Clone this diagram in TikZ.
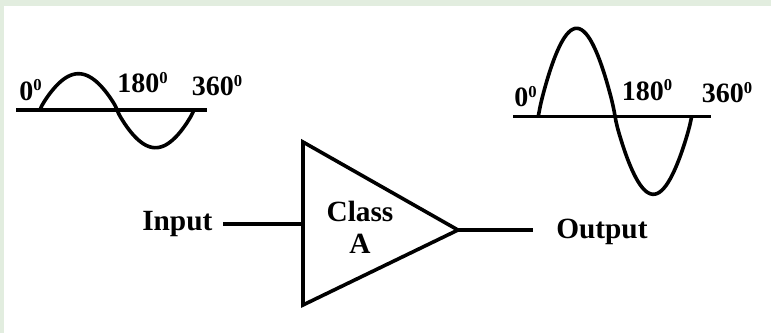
\documentclass[tikz,border=0pt]{standalone}
\usepackage{fontspec}
\setmainfont{Liberation Serif}
\definecolor{edgegreen}{HTML}{E2EDDF}
\newcommand{\supzero}{\raisebox{7pt}{\fontsize{12.5}{12.5}\selectfont 0}}

\begin{document}
\begin{tikzpicture}[x=0.75pt,y=-0.75pt,
 wire/.style={line width=2.7pt},
 caption/.style={font=\bfseries\fontsize{22}{23.8}\selectfont,inner sep=0pt,anchor=base west,align=center},
 degree/.style={font=\bfseries\fontsize{21}{22}\selectfont,inner sep=0pt,anchor=base west}]
\useasboundingbox (0,0) rectangle (771,333);
\fill[edgegreen] (0,0) rectangle (771,333);
\fill[white] (4,5.5) rectangle (771,333);
\coordinate (top) at (303,142);
\coordinate (bottom) at (303,305);
\coordinate (tip) at (458,230);
\coordinate (inend) at (303,224);
\coordinate (instart) at (223,224);
\coordinate (outend) at (533,230);
\draw[wire,line join=miter] (top)--(tip)--(bottom)--cycle;
\node[caption] (input) at (142,230) {Input};
\node[caption] (output) at (556,238) {Output};
\node[caption,anchor=center] (classa) at (360,227) {Class\\A};
\draw[wire] (instart)--(inend);
\draw[wire] (tip)--(outend);
\node[degree] (leftzero) at (19,100) {0\supzero};
\node[degree] (leftmid) at (117,92.7) {180\supzero};
\node[degree] (leftend) at (191.7,95.7) {360\supzero};
\coordinate (leftstart) at (16,109.7);
\coordinate (leftstop) at (207,109.7);
\draw[wire] (leftstart)--(leftstop);
\draw[wire] plot[domain=0.05:359.95,samples=72,smooth] ({40+\x/360*154},{109.7-(\x<180?36:-38)*abs(sin(\x))^0.85});
\node[degree] (rightzero) at (514,106.7) {0\supzero};
\node[degree] (rightmid) at (621.7,100) {180\supzero};
\node[degree] (rightend) at (701.7,102.7) {360\supzero};
\coordinate (rightstart) at (513,116.3);
\coordinate (rightstop) at (711,116.3);
\draw[wire] (rightstart)--(rightstop);
\draw[wire] plot[domain=0.05:359.95,samples=72,smooth] ({538.3+\x/360*153.4},{116.3-(\x<180?88:-78)*abs(sin(\x))^0.85});
\end{tikzpicture}
\end{document}
